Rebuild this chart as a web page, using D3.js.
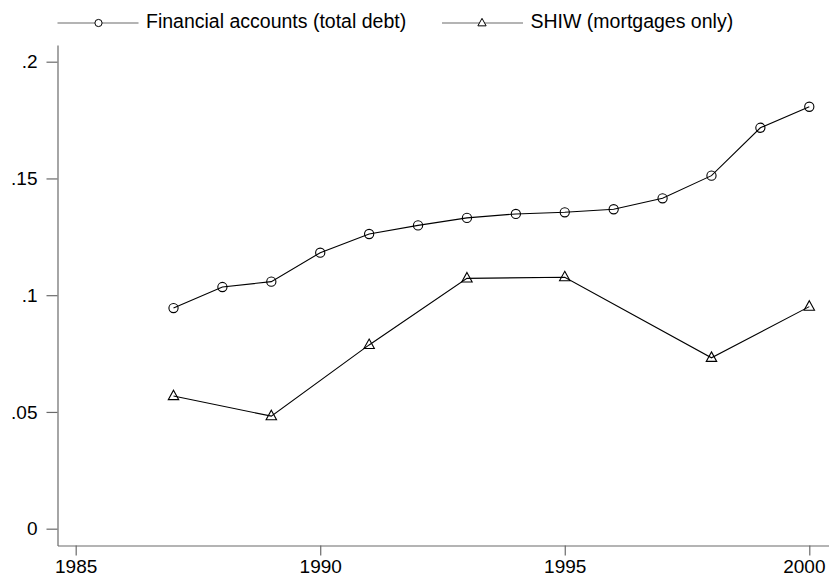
<!DOCTYPE html>
<html>
<head>
<meta charset="utf-8">
<script src="https://cdn.jsdelivr.net/npm/d3@7"></script>
<style>
  html, body { margin: 0; padding: 0; background: #fff; }
  svg { display: block; font-family: "Liberation Sans", Arial, Helvetica, sans-serif; }
</style>
</head>
<body>
<svg id="chart" width="829" height="581"></svg>
<script>
// Household debt relative to disposable income, two sources
const finYears = [1987, 1988, 1989, 1990, 1991, 1992, 1993, 1994, 1995, 1996, 1997, 1998, 1999, 2000];
const finValues = [0.0945, 0.1035, 0.1058, 0.1182, 0.1262, 0.1299, 0.1331, 0.1348, 0.1355, 0.1368, 0.1415, 0.1512, 0.1717, 0.1807];

const shiwYears = [1987, 1989, 1991, 1993, 1995, 1998, 2000];
const shiwValues = [0.0568, 0.0482, 0.0787, 0.1072, 0.1077, 0.0732, 0.0951];

const xTicks = [1985, 1990, 1995, 2000];
const yTicks = [0, 0.05, 0.1, 0.15, 0.2];
const yTickLabels = ["0", ".05", ".1", ".15", ".2"];

const seriesNames = ["Financial accounts (total debt)", "SHIW (mortgages only)"];

const svg = d3.select("#chart");
const axisColor = "#6a6a6a";
const W = 829;

const plot = { left: 57.5, right: 829, top: 45, bottom: 545.5 };

const x = d3.scaleLinear().domain([1984.628, 2000.403]).range([plot.left, plot.right]);
const y = d3.scaleLinear().domain([-0.0072, 0.20715]).range([plot.bottom, plot.top]);

// Axes
const xAxis = d3.axisBottom(x).tickValues(xTicks).tickFormat(d3.format("d")).tickSize(10).tickSizeOuter(0).tickPadding(4);
const yAxis = d3.axisLeft(y).tickValues(yTicks).tickFormat((d, i) => yTickLabels[i]).tickSize(11).tickSizeOuter(0).tickPadding(9);

const gx = svg.append("g").attr("transform", `translate(0,${plot.bottom})`).call(xAxis);
const gy = svg.append("g").attr("transform", `translate(${plot.left},0)`).call(yAxis);

[gx, gy].forEach(g => {
  g.select(".domain").attr("stroke", axisColor).attr("stroke-width", 1.2);
  g.selectAll(".tick line").attr("stroke", axisColor).attr("stroke-width", 1.2);
  g.selectAll(".tick text").attr("fill", "#000").attr("font-size", 19)
    .attr("font-family", "Liberation Sans, Arial, sans-serif");
});

// keep the last year label inside the drawing area
gx.selectAll(".tick text").each(function (d) {
  const t = d3.select(this);
  const w = this.getComputedTextLength();
  const cx = x(d);
  if (cx + w / 2 > W - 4) {
    t.attr("text-anchor", "end").attr("x", (W - 4) - cx);
  }
});

// Series lines
const line = d3.line().x(d => x(d[0])).y(d => y(d[1]));
const finData = finYears.map((yr, i) => [yr, finValues[i]]);
const shiwData = shiwYears.map((yr, i) => [yr, shiwValues[i]]);

svg.append("path").datum(finData).attr("d", line)
  .attr("fill", "none").attr("stroke", "#000").attr("stroke-width", 1.1);
svg.append("path").datum(shiwData).attr("d", line)
  .attr("fill", "none").attr("stroke", "#000").attr("stroke-width", 1.1);

// Markers
svg.append("g").selectAll("circle").data(finData).join("circle")
  .attr("cx", d => x(d[0])).attr("cy", d => y(d[1])).attr("r", 4.6)
  .attr("fill", "none").attr("stroke", "#000").attr("stroke-width", 1.1);

const tri = s => `M0,${-s * 0.62}L${s * 0.55},${s * 0.38}L${-s * 0.55},${s * 0.38}Z`;
svg.append("g").selectAll("path").data(shiwData).join("path")
  .attr("transform", d => `translate(${x(d[0])},${y(d[1])})`)
  .attr("d", tri(9.5))
  .attr("fill", "none").attr("stroke", "#000").attr("stroke-width", 1.1);

// Legend
const legend = svg.append("g");
const legendItems = [
  { name: seriesNames[0], x0: 57.5, marker: "circle", width: 266 },
  { name: seriesNames[1], x0: 442, marker: "triangle", width: 209 }
];
const ly = 23;
legendItems.forEach(item => {
  const g = legend.append("g");
  g.append("line").attr("x1", item.x0).attr("x2", item.x0 + 81).attr("y1", ly).attr("y2", ly)
    .attr("stroke", axisColor).attr("stroke-width", 1.2);
  if (item.marker === "circle") {
    g.append("circle").attr("cx", item.x0 + 41).attr("cy", ly).attr("r", 3.6)
      .attr("fill", "#fff").attr("stroke", "#000").attr("stroke-width", 1);
  } else {
    g.append("path").attr("transform", `translate(${item.x0 + 40},${ly})`).attr("d", tri(7.5))
      .attr("fill", "#fff").attr("stroke", "#000").attr("stroke-width", 1);
  }
  g.append("text").attr("x", item.x0 + 88.5).attr("y", ly + 5).attr("font-size", 19.5)
    .attr("fill", "#000").text(item.name);
});
</script>
</body>
</html>
